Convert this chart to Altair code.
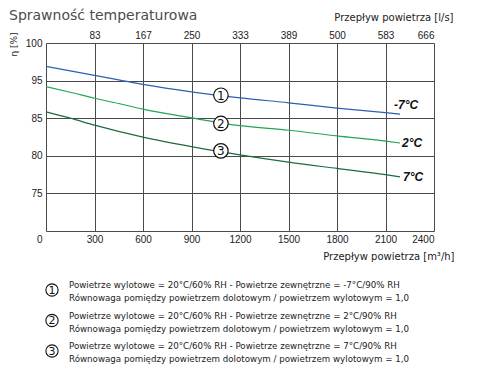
import altair as alt
import pandas as pd

# ---------------- data ----------------
series_names = ["-7°C", "2°C", "7°C"]
series_colors = ["#2f5fb0", "#24a552", "#1f6b3e"]

blue_flow = [0, 300, 450, 600, 900, 1200, 1500, 1800, 2100, 2190]
blue_eff = [96.9, 95.7, 95.1, 94.0, 92.0, 90.4, 89.1, 87.7, 86.5, 86.1]
green_flow = [0, 150, 300, 450, 600, 900, 1200, 1500, 1800, 2100, 2190]
green_eff = [93.4, 91.9, 90.3, 88.9, 87.4, 85.1, 84.0, 83.4, 82.65, 81.95, 81.7]
dark_flow = [0, 150, 300, 600, 900, 1200, 1500, 1800, 2100, 2190]
dark_eff = [86.7, 85.0, 84.07, 82.48, 81.22, 80.13, 79.16, 78.32, 77.5, 77.2]

marker_nums = ["1", "2", "3"]
marker_flow = [1082, 1082, 1082]
marker_eff = [91.1, 84.3, 80.66]

end_label_flow = [2153, 2202, 2208]
end_label_eff = [88.46, 81.64, 77.13]

x_ticks = [0, 300, 600, 900, 1200, 1500, 1800, 2100, 2400]
top_labels = ["", "83", "167", "250", "333", "389", "500", "583", "666"]
y_ticks = [0, 75, 80, 85, 95, 100]

title_text = "Sprawność temperaturowa"
x_title = "Przepływ powietrza [m³/h]"
top_title = "Przepływ powietrza [l/s]"
y_title = "η [%]"

legend_line1 = [
    "Powietrze wylotowe = 20°C/60% RH - Powietrze zewnętrzne = -7°C/90% RH",
    "Powietrze wylotowe = 20°C/60% RH - Powietrze zewnętrzne = 2°C/90% RH",
    "Powietrze wylotowe = 20°C/60% RH - Powietrze zewnętrzne = 7°C/90% RH",
]
legend_line2 = "Równowaga pomiędzy powietrzem dolotowym / powietrzem wylotowym = 1,0"

# ---------------- build ----------------
W, H = 388, 188
rows = []
for name, fl, ef in [(series_names[0], blue_flow, blue_eff),
                     (series_names[1], green_flow, green_eff),
                     (series_names[2], dark_flow, dark_eff)]:
    for f, e in zip(fl, ef):
        rows.append({"series": name, "flow": f, "eff": e})
df = pd.DataFrame(rows)

xscale = alt.Scale(domain=[0, 2400], nice=False, zero=False)
yscale = alt.Scale(domain=y_ticks, range=[H, H * 4 / 5, H * 3 / 5, H * 2 / 5, H / 5, 0], nice=False, zero=False)
cscale = alt.Scale(domain=series_names, range=series_colors)

lab_font = "Liberation Sans"
txt_font = "DejaVu Sans"

top_expr = "[" + ",".join("'%s'" % t for t in top_labels) + "][round(datum.value / 300)]"

lines = alt.Chart(df).mark_line(strokeWidth=1.2, interpolate="monotone").encode(
    x=alt.X("flow:Q", scale=xscale, axis=alt.Axis(
        values=x_ticks, title=x_title, format="d",
        labelExpr="datum.value == 0 ? '' : datum.label",
        orient="bottom", grid=True, ticks=False, tickSize=0, domain=False,
        labelPadding=3, labelFont=lab_font, labelFontSize=10, labelColor="#222",
        titleFont=txt_font, titleFontSize=10, titleFontWeight="normal", titleColor="#222",
        titleAnchor="end", titleAlign="right", titleBaseline="middle", titleX=408, titleY=25)),
    y=alt.Y("eff:Q", scale=yscale, axis=alt.Axis(
        values=y_ticks, title=y_title, format="d", grid=True, ticks=False, tickSize=0, domain=False,
        labelPadding=4, labelFont=lab_font, labelFontSize=10, labelColor="#222",
        labelOffset={"condition": {"test": "datum.value == 0", "value": 8}, "value": 0},
        titleFont=txt_font, titleFontSize=9, titleFontWeight="normal", titleColor="#222",
        titleAngle=270, titleAlign="center", titleBaseline="middle", titleX=-33, titleY=1)),
    color=alt.Color("series:N", scale=cscale, legend=None),
)

top_axis = alt.Chart(pd.DataFrame({"flow": x_ticks})).mark_point(opacity=0).encode(
    x=alt.X("flow:Q", scale=xscale, axis=alt.Axis(
        values=x_ticks, orient="top", title=top_title, labelExpr=top_expr,
        grid=False, ticks=False, tickSize=0, domain=False, labelPadding=3,
        labelFont=lab_font, labelFontSize=10, labelColor="#222",
        titleFont=txt_font, titleFontSize=10, titleFontWeight="normal", titleColor="#222",
        titleAnchor="end", titleAlign="right", titleBaseline="middle", titleX=407, titleY=-26)),
)

mk = pd.DataFrame({"n": marker_nums, "flow": marker_flow, "eff": marker_eff})
markers = alt.Chart(mk).mark_point(shape="circle", filled=True, fill="white", stroke="#111",
                                   strokeWidth=1.2, opacity=1, size=210).encode(
    x=alt.X("flow:Q", scale=xscale, axis=None),
    y=alt.Y("eff:Q", scale=yscale, axis=None),
)
marker_txt = alt.Chart(mk).mark_text(font=txt_font, fontSize=12, color="#111", baseline="middle", dy=0.5).encode(
    x=alt.X("flow:Q", scale=xscale, axis=None),
    y=alt.Y("eff:Q", scale=yscale, axis=None),
    text="n:N",
)

el = pd.DataFrame({"s": series_names, "flow": end_label_flow, "eff": end_label_eff})
end_labels = alt.Chart(el).mark_text(font=lab_font, fontSize=12, fontWeight="bold", fontStyle="italic",
                                     align="left", baseline="middle", color="#111").encode(
    x=alt.X("flow:Q", scale=xscale, axis=None),
    y=alt.Y("eff:Q", scale=yscale, axis=None),
    text="s:N",
)

title_layer = alt.Chart(pd.DataFrame({"t": [title_text]})).mark_text(
    font=txt_font, fontSize=14, color="#4d4d4d", align="left", baseline="top").encode(
    x=alt.value(-37), y=alt.value(-34), text="t:N")

layers = [lines, top_axis, markers, marker_txt, end_labels, title_layer]

for i in range(3):
    y0 = 247 + i * 30.5
    num_df = pd.DataFrame({"n": [marker_nums[i]]})
    layers.append(alt.Chart(num_df).mark_point(shape="circle", filled=True, fill="white", stroke="#111",
                                               strokeWidth=1.1, opacity=1, size=150).encode(
        x=alt.value(6), y=alt.value(y0)))
    layers.append(alt.Chart(num_df).mark_text(font=txt_font, fontSize=11, color="#111", baseline="middle").encode(
        x=alt.value(6), y=alt.value(y0 + 0.5), text="n:N"))
    layers.append(alt.Chart(pd.DataFrame({"t": [legend_line1[i]]})).mark_text(
        font=txt_font, fontSize=8.7, color="#222", align="left", baseline="middle").encode(
        x=alt.value(23), y=alt.value(y0 - 5), text="t:N"))
    layers.append(alt.Chart(pd.DataFrame({"t": [legend_line2]})).mark_text(
        font=txt_font, fontSize=8.7, color="#222", align="left", baseline="middle").encode(
        x=alt.value(23), y=alt.value(y0 + 8), text="t:N"))

chart = alt.layer(*layers).resolve_axis(x="independent", y="independent").properties(
    width=W, height=H, autosize="none",
    padding={"left": 38, "top": 35, "right": 30, "bottom": 140},
).configure_view(stroke=None).configure_axis(gridColor="#4a4a4a", gridWidth=1, gridOpacity=1)

chart.save("out.html", embed_options={"renderer": "svg", "actions": False})
